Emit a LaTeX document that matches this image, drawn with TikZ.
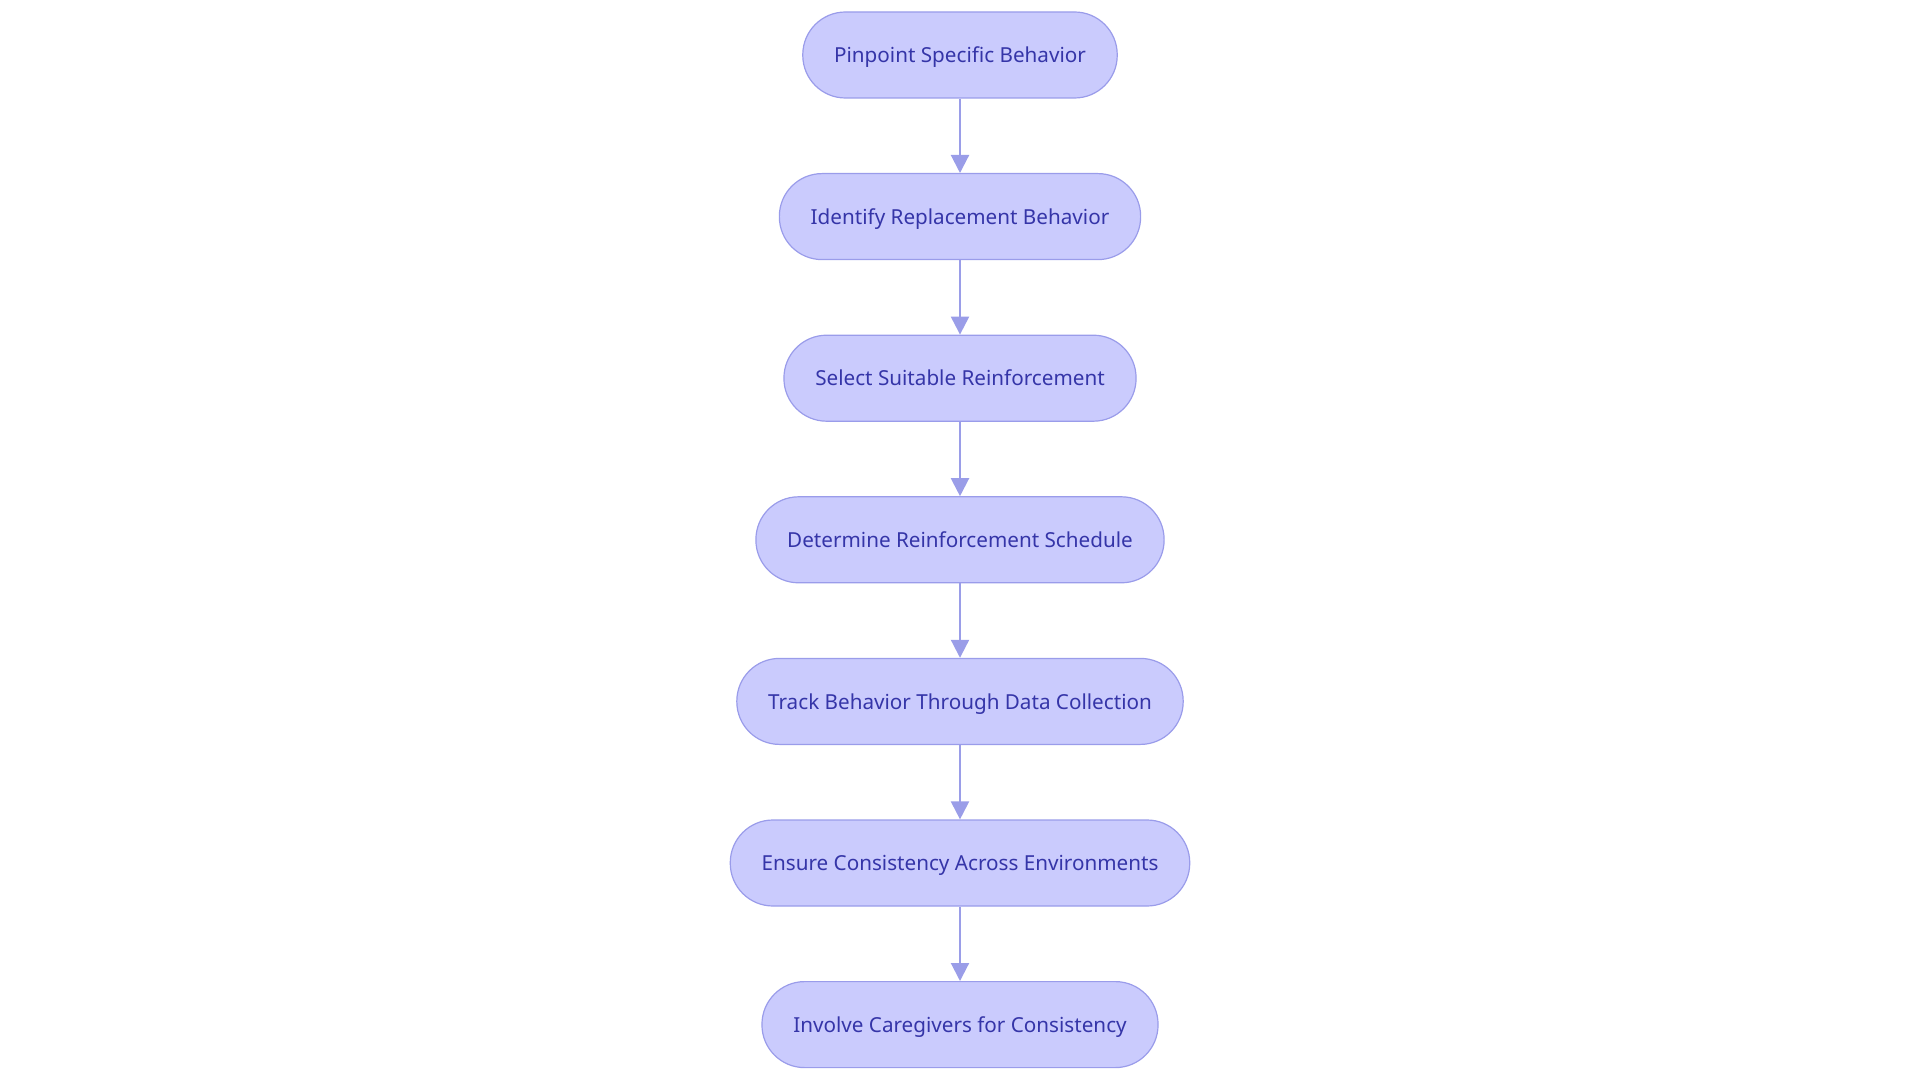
\documentclass[tikz,border=0pt]{standalone}
\usepackage{fontspec}
\setmainfont{Noto Sans}
\usetikzlibrary{positioning,arrows.meta}
\definecolor{nodefill}{HTML}{CACBFD}
\definecolor{nodeline}{HTML}{9A9CEA}
\definecolor{nodetext}{HTML}{3535A8}
\definecolor{flow}{HTML}{9A9DE8}

\begin{document}
\begin{tikzpicture}[x=0.75pt,y=-0.75pt,stepbox/.style={draw=nodeline,line width=0.9pt,rounded corners=32pt,fill=nodefill,text=nodetext,minimum height=64.5pt,inner xsep=23.5pt,text height=11.5pt,text depth=0pt,align=center,font=\fontsize{15.5}{18}\selectfont},arr/.style={-{Triangle[length=13.5pt,width=13.5pt]},line width=1.6pt,draw=flow},node distance=55.8pt]
\useasboundingbox (0,0) rectangle (1920,1080);
\node[stepbox] (pinpoint) at (960,55) {Pinpoint Specific Behavior};
\node[stepbox,below=of pinpoint] (replace) {Identify Replacement Behavior};
\node[stepbox,below=of replace] (reinforce) {Select Suitable Reinforcement};
\node[stepbox,below=of reinforce] (schedule) {Determine Reinforcement Schedule};
\node[stepbox,below=of schedule] (track) {Track Behavior Through Data Collection};
\node[stepbox,below=of track] (consist) {Ensure Consistency Across Environments};
\node[stepbox,below=of consist] (caregiver) {Involve Caregivers for Consistency};
\draw[arr] (pinpoint)--(replace);
\draw[arr] (replace)--(reinforce);
\draw[arr] (reinforce)--(schedule);
\draw[arr] (schedule)--(track);
\draw[arr] (track)--(consist);
\draw[arr] (consist)--(caregiver);
\end{tikzpicture}
\end{document}
